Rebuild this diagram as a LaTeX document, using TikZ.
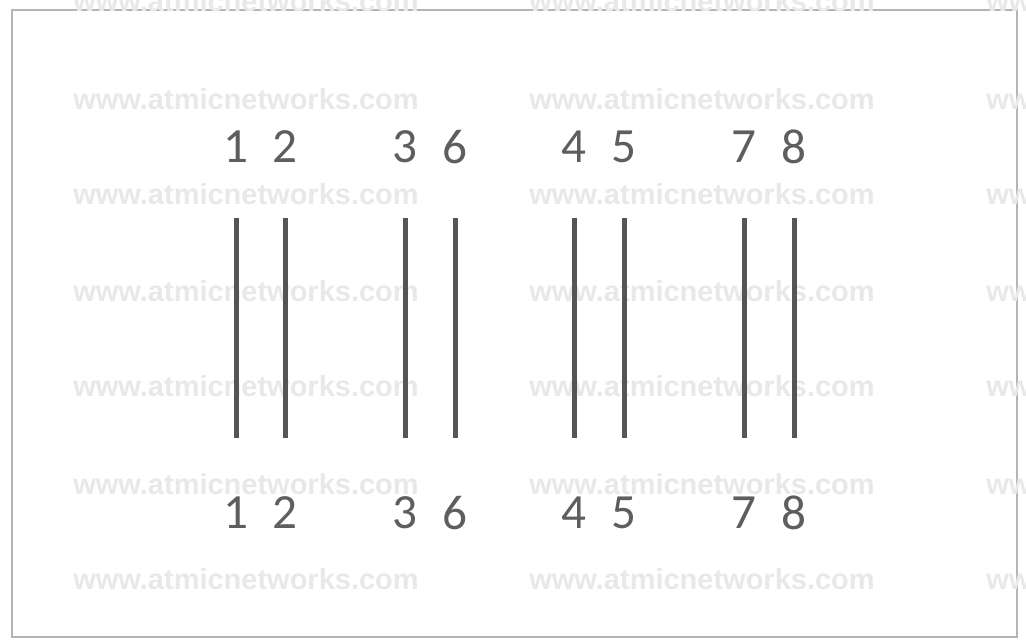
\documentclass[tikz,border=0pt]{standalone}
\usepackage{fontspec}
\setmainfont{Carlito}
\newfontfamily\markfont{Liberation Sans}
\usepackage{xcolor}
\usetikzlibrary{calc}

\definecolor{pinGray}{HTML}{5E5E5E}
\definecolor{wireGray}{HTML}{555555}
\definecolor{markGray}{HTML}{E8E8E8}
\definecolor{frameGray}{HTML}{B4B4B4}

\begin{document}
\begin{tikzpicture}[pin/.style={font=\fontsize{28}{30}\selectfont, text=pinGray, inner sep=0pt},
    wire/.style={draw=wireGray, line width=0.1cm},
    wmtext/.style={font=\markfont\bfseries\fontsize{16.5}{18}\selectfont, text=markGray, inner sep=0pt}]
  \useasboundingbox (0,0) rectangle (20.52,-12.84);
  \clip (0,0) rectangle (20.52,-12.84);
  % frame
  \draw[frameGray, line width=0.05cm] (0.24,-0.2) rectangle (20.34,-12.74);
  % watermark
  \node[wmtext] (wm11) at (4.92,-0.02) {www.atmicnetworks.com};
  \node[wmtext] (wm12) at (14.04,-0.02) {www.atmicnetworks.com};
  \node[wmtext] (wm13) at (23.18,-0.02) {www.atmicnetworks.com};
  \node[wmtext] (wm21) at (4.92,-1.98) {www.atmicnetworks.com};
  \node[wmtext] (wm22) at (14.04,-1.98) {www.atmicnetworks.com};
  \node[wmtext] (wm23) at (23.18,-1.98) {www.atmicnetworks.com};
  \node[wmtext] (wm31) at (4.92,-3.88) {www.atmicnetworks.com};
  \node[wmtext] (wm32) at (14.04,-3.88) {www.atmicnetworks.com};
  \node[wmtext] (wm33) at (23.18,-3.88) {www.atmicnetworks.com};
  \node[wmtext] (wm41) at (4.92,-5.82) {www.atmicnetworks.com};
  \node[wmtext] (wm42) at (14.04,-5.82) {www.atmicnetworks.com};
  \node[wmtext] (wm43) at (23.18,-5.82) {www.atmicnetworks.com};
  \node[wmtext] (wm51) at (4.92,-7.72) {www.atmicnetworks.com};
  \node[wmtext] (wm52) at (14.04,-7.72) {www.atmicnetworks.com};
  \node[wmtext] (wm53) at (23.18,-7.72) {www.atmicnetworks.com};
  \node[wmtext] (wm61) at (4.92,-9.68) {www.atmicnetworks.com};
  \node[wmtext] (wm62) at (14.04,-9.68) {www.atmicnetworks.com};
  \node[wmtext] (wm63) at (23.18,-9.68) {www.atmicnetworks.com};
  \node[wmtext] (wm71) at (4.92,-11.58) {www.atmicnetworks.com};
  \node[wmtext] (wm72) at (14.04,-11.58) {www.atmicnetworks.com};
  \node[wmtext] (wm73) at (23.18,-11.58) {www.atmicnetworks.com};
  % pins, near end
  \node[pin] (top1) at (4.72,-2.94) {1};
  \node[pin] (top2) at (5.70,-2.94) {2};
  \node[pin] (top3) at (8.10,-2.94) {3};
  \node[pin] (top6) at (9.10,-2.94) {6};
  \node[pin] (top4) at (11.48,-2.94) {4};
  \node[pin] (top5) at (12.48,-2.94) {5};
  \node[pin] (top7) at (14.88,-2.94) {7};
  \node[pin] (top8) at (15.88,-2.94) {8};
  % pins, far end
  \node[pin] (bot1) at (4.72,-10.26) {1};
  \node[pin] (bot2) at (5.70,-10.26) {2};
  \node[pin] (bot3) at (8.10,-10.26) {3};
  \node[pin] (bot6) at (9.10,-10.26) {6};
  \node[pin] (bot4) at (11.48,-10.26) {4};
  \node[pin] (bot5) at (12.48,-10.26) {5};
  \node[pin] (bot7) at (14.88,-10.26) {7};
  \node[pin] (bot8) at (15.88,-10.26) {8};
  % wires
  \draw[wire] ($(top1)+(0,-1.42)$) -- ($(bot1)+(0,1.50)$);
  \draw[wire] ($(top2)+(0,-1.42)$) -- ($(bot2)+(0,1.50)$);
  \draw[wire] ($(top3)+(0,-1.42)$) -- ($(bot3)+(0,1.50)$);
  \draw[wire] ($(top6)+(0,-1.42)$) -- ($(bot6)+(0,1.50)$);
  \draw[wire] ($(top4)+(0,-1.42)$) -- ($(bot4)+(0,1.50)$);
  \draw[wire] ($(top5)+(0,-1.42)$) -- ($(bot5)+(0,1.50)$);
  \draw[wire] ($(top7)+(0,-1.42)$) -- ($(bot7)+(0,1.50)$);
  \draw[wire] ($(top8)+(0,-1.42)$) -- ($(bot8)+(0,1.50)$);
\end{tikzpicture}
\end{document}
